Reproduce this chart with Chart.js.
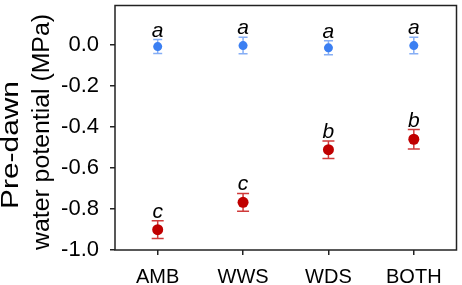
<!DOCTYPE html>
<html>
<head>
<meta charset="utf-8">
<script src="https://cdn.jsdelivr.net/npm/chart.js@4.4.1/dist/chart.umd.min.js"></script>
<style>
  html, body { margin: 0; padding: 0; background: #fff; }
  #wrap { width: 462px; height: 285px; }
</style>
</head>
<body>
<div id="wrap"><canvas id="c" width="462" height="285"></canvas></div>
<script>
// treatments on the x axis
const categories = ['AMB', 'WWS', 'WDS', 'BOTH'];
// upper (blue) series: mean and standard error, MPa
const blueMeans = [-0.010, -0.005, -0.016, -0.005];
const blueErr = [0.034, 0.040, 0.034, 0.040];
const blueLetters = ['a', 'a', 'a', 'a'];
// lower (red) series
const redMeans = [-0.901, -0.768, -0.512, -0.461];
const redErr = [0.043, 0.043, 0.043, 0.047];
const redLetters = ['c', 'c', 'b', 'b'];
// y tick labels
const yTicks = [-1.0, -0.8, -0.6, -0.4, -0.2, 0.0];

const FONT = '"Liberation Sans", Arial, sans-serif';
const AXIS = '#222';

// error bars drawn under the points
const errorBarPlugin = {
  id: 'errorBars',
  beforeDatasetsDraw(chart) {
    const { ctx, scales } = chart;
    chart.data.datasets.forEach(ds => {
      ds.data.forEach((v, i) => {
        const x = scales.x.getPixelForValue(i);
        const yHi = scales.y.getPixelForValue(v + ds.err[i]);
        const yLo = scales.y.getPixelForValue(v - ds.err[i]);
        ctx.save();
        ctx.strokeStyle = ds.errColor;
        ctx.lineWidth = 1.5;
        ctx.beginPath();
        ctx.moveTo(x, yHi); ctx.lineTo(x, yLo);
        ctx.moveTo(x - ds.capHalf, yHi); ctx.lineTo(x + ds.capHalf, yHi);
        ctx.moveTo(x - ds.capHalf, yLo); ctx.lineTo(x + ds.capHalf, yLo);
        ctx.stroke();
        ctx.restore();
      });
    });
  },
  afterDatasetsDraw(chart) {
    // significance letters above each error bar
    const { ctx, scales } = chart;
    ctx.save();
    ctx.font = `italic 21px ${FONT}`;
    ctx.fillStyle = '#000';
    ctx.textAlign = 'center';
    ctx.textBaseline = 'alphabetic';
    chart.data.datasets.forEach(ds => {
      ds.data.forEach((v, i) => {
        const x = scales.x.getPixelForValue(i);
        const yHi = scales.y.getPixelForValue(v + ds.err[i]);
        ctx.fillText(ds.letters[i], x, yHi - 3);
      });
    });
    ctx.restore();
  },
};

// full frame around the plot area + the two-line y title
const framePlugin = {
  id: 'frame',
  afterDraw(chart) {
    const { ctx, chartArea: a } = chart;
    ctx.save();
    ctx.strokeStyle = AXIS;
    ctx.lineWidth = 1.5;
    ctx.strokeRect(a.left, a.top, a.right - a.left, a.bottom - a.top);

    ctx.fillStyle = '#000';
    ctx.font = `23px ${FONT}`;
    ctx.textAlign = 'center';
    ctx.textBaseline = 'middle';
    const lines = [
      { text: 'Pre-dawn', x: 12, y: 145, len: 128 },
      { text: 'water potential (MPa)', x: 43, y: 132, len: 236 },
    ];
    lines.forEach(l => {
      const w = ctx.measureText(l.text).width;
      ctx.save();
      ctx.translate(l.x, l.y);
      ctx.rotate(-Math.PI / 2);
      ctx.scale(l.len / w, 1);
      ctx.fillText(l.text, 0, 0);
      ctx.restore();
    });
    ctx.restore();
  },
};

new Chart(document.getElementById('c'), {
  type: 'line',
  data: {
    labels: categories,
    datasets: [
      {
        label: 'blue',
        data: blueMeans, err: blueErr, letters: blueLetters,
        showLine: false,
        pointRadius: 4.5, pointBorderWidth: 0,
        pointBackgroundColor: '#3b7ff2', borderColor: '#3b7ff2',
        errColor: '#86aef5', capHalf: 4.5,
      },
      {
        label: 'red',
        data: redMeans, err: redErr, letters: redLetters,
        showLine: false,
        pointRadius: 5.5, pointBorderWidth: 0,
        pointBackgroundColor: '#c00000', borderColor: '#c00000',
        errColor: '#d03a3a', capHalf: 6,
      },
    ],
  },
  options: {
    responsive: false,
    animation: false,
    layout: { padding: { left: 0, right: 3, top: 3, bottom: 0 } },
    plugins: { legend: { display: false }, tooltip: { enabled: false } },
    scales: {
      x: {
        type: 'category',
        offset: true,
        border: { display: false },
        grid: { drawOnChartArea: false, drawTicks: true, tickLength: 5, color: AXIS, lineWidth: 1.5 },
        ticks: { color: '#000', font: { family: FONT, size: 20 }, padding: 10, maxRotation: 0 },
        afterFit: s => { s.height = 35; s.paddingLeft = 0; s.paddingRight = 0; },
      },
      y: {
        min: -1.0,
        max: 0.19,
        border: { display: false },
        grid: { drawOnChartArea: false, drawTicks: true, tickLength: 5, color: AXIS, lineWidth: 1.5 },
        afterBuildTicks: s => { s.ticks = yTicks.map(v => ({ value: v })); },
        ticks: {
          color: '#000',
          font: { family: FONT, size: 22 },
          padding: 11,
          callback: v => (Math.abs(v) < 1e-9 ? 0 : v).toFixed(1),
        },
        afterFit: s => { s.width = 115; s.paddingTop = 0; s.paddingBottom = 0; },
      },
    },
  },
  plugins: [errorBarPlugin, framePlugin],
});
</script>
</body>
</html>
